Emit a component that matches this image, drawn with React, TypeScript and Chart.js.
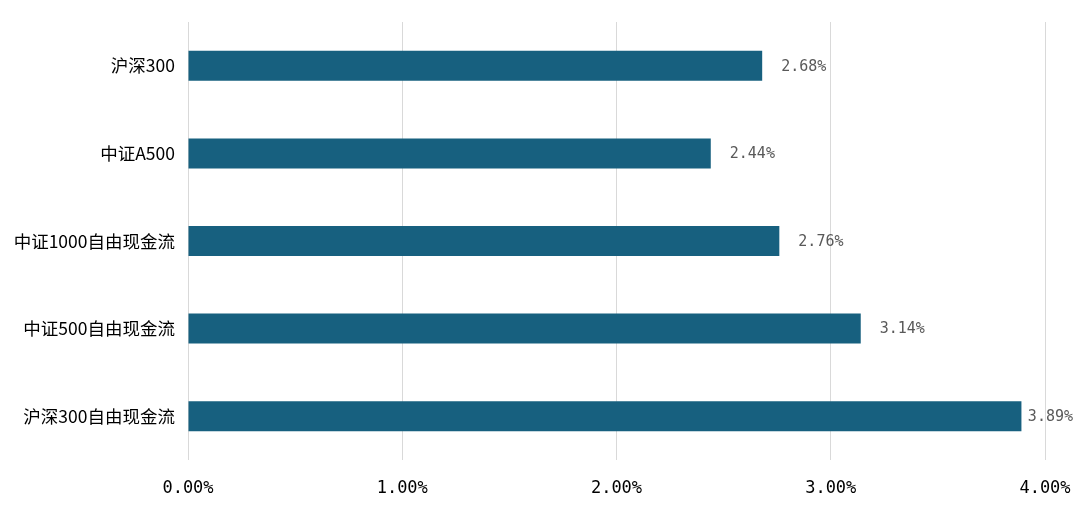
import React, { useEffect, useRef } from "react";
import { Chart, registerables } from "chart.js";

Chart.register(...registerables);

const categories = ["沪深300", "中证A500", "中证1000自由现金流", "中证500自由现金流", "沪深300自由现金流"];
const values = [2.68, 2.44, 2.76, 3.14, 3.89];
const xTicks = [0, 1, 2, 3, 4];

const BAR_COLOR = "#17607f";
const FONT = "'Noto Sans CJK SC', 'Noto Sans', sans-serif";
const MONO = "'DejaVu Sans Mono', 'Liberation Mono', monospace";

const labelPlugin = {
  id: "barLabels",
  afterDatasetsDraw(chart: any) {
    const ctx = chart.ctx;
    const meta = chart.getDatasetMeta(0);
    ctx.save();
    ctx.font = `15px ${MONO}`;
    ctx.fillStyle = "#595959";
    ctx.textAlign = "left";
    ctx.textBaseline = "middle";
    meta.data.forEach((bar: any, i: number) => {
      const txt = values[i].toFixed(2) + "%";
      const w = ctx.measureText(txt).width;
      const x = Math.min(bar.x + 19, chart.width - 7 - w);
      ctx.fillText(txt, x, bar.y + 1);
    });
    ctx.restore();
  },
};

export default function App() {
  const ref = useRef<HTMLCanvasElement | null>(null);
  useEffect(() => {
    document.body.style.margin = "0";
    const chart = new Chart(ref.current as HTMLCanvasElement, {
      type: "bar",
      data: {
        labels: categories,
        datasets: [
          {
            data: values,
            backgroundColor: BAR_COLOR,
            barPercentage: 0.343,
            categoryPercentage: 1,
          },
        ],
      },
      options: {
        indexAxis: "y",
        animation: false,
        responsive: false,
        layout: { padding: { top: 22, right: 35, bottom: 0, left: 0 } },
        plugins: { legend: { display: false }, tooltip: { enabled: false } },
        scales: {
          x: {
            min: 0,
            max: 4,
            afterBuildTicks: (scale: any) => {
              scale.ticks = xTicks.map((v) => ({ value: v }));
            },
            afterFit: (scale: any) => {
              scale.height = 50;
              scale.paddingLeft = 0;
              scale.paddingRight = 0;
            },
            grid: { color: "#d9d9d9", lineWidth: 1, drawTicks: false },
            border: { display: false },
            ticks: {
              padding: 18,
              color: "#000",
              maxRotation: 0,
              font: { size: 17, family: MONO },
              callback: (v: any) => Number(v).toFixed(2) + "%",
            },
          },
          y: {
            afterFit: (scale: any) => {
              scale.width = 188;
              scale.paddingTop = 0;
              scale.paddingBottom = 0;
            },
            grid: { display: false, drawTicks: false },
            border: { display: false },
            ticks: {
              padding: 13,
              color: "#000",
              font: { size: 17.5, family: FONT },
            },
          },
        },
      },
      plugins: [labelPlugin],
    });
    return () => chart.destroy();
  }, []);
  return (
    <div style={{ width: 1080, height: 510, background: "#fff" }}>
      <canvas ref={ref} width={1080} height={510} style={{ display: "block" }} />
    </div>
  );
}
